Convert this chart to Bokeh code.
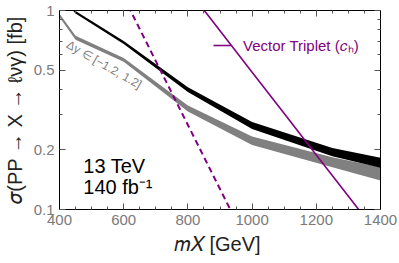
from bokeh.plotting import figure
from bokeh.models import (FixedTicker, CustomJSTickFormatter, Label, Legend, LegendItem,
                          LogAxis, LinearAxis, Range1d)
from bokeh.embed import file_html
from bokeh.resources import INLINE

# ---- data ----
mass = [400, 450, 600, 800, 1000, 1250, 1400]
black_hi = [1.218, 0.994, 0.702, 0.412, 0.275, 0.2035, 0.182]
black_lo = [1.183, 0.966, 0.678, 0.389, 0.254, 0.185, 0.162]
gray_hi = [0.963, 0.747, 0.578, 0.333, 0.233, 0.183, 0.163]
gray_lo = [0.925, 0.713, 0.552, 0.311, 0.211, 0.163, 0.140]

vt_mass = [800, 900, 1000, 1100, 1200, 1300, 1400]
vt_sigma = [1.276, 0.791, 0.490, 0.304, 0.188, 0.1165, 0.0722]

dash_mass = [600, 700, 800, 900, 1000]
dash_sigma = [1.168, 0.557, 0.266, 0.1267, 0.0604]

x_major = [400, 600, 800, 1000, 1200, 1400]
x_minor = [450, 500, 550, 650, 700, 750, 850, 900, 950, 1050, 1100, 1150, 1250, 1300, 1350]
y_major = [0.1, 0.2, 0.5, 1]
y_minor = [0.3, 0.4, 0.6, 0.7, 0.8, 0.9]

x_title = "𝑚𝑋  [GeV]"
y_title = "𝜎(PP → X → ℓνγ) [fb]"
legend_label = "Vector Triplet (𝑐ₕ)"

PURPLE = "#800080"
GRAY = "#808080"
FONT = "Liberation Sans"
TICKC = "#555555"

p = figure(width=399, height=263, y_axis_type="log",
           x_range=Range1d(400, 1400), y_range=Range1d(0.1, 1),
           output_backend="svg", toolbar_location=None,
           min_border_left=56, min_border_right=19, min_border_top=10, min_border_bottom=54)
p.background_fill_color = "white"
p.grid.visible = False
p.outline_line_color = "black"
p.outline_line_width = 1

for ax, tk in ((p.xaxis[0], FixedTicker(ticks=x_major, minor_ticks=x_minor)),
               (p.yaxis[0], FixedTicker(ticks=y_major, minor_ticks=y_minor))):
    ax.ticker = tk
    ax.major_tick_in = 6
    ax.major_tick_out = 0
    ax.minor_tick_in = 3
    ax.minor_tick_out = 0
    ax.axis_line_color = "black"
    ax.major_tick_line_color = TICKC
    ax.minor_tick_line_color = TICKC
    ax.major_label_text_font = FONT
    ax.major_label_text_font_size = "15px"
    ax.major_label_text_color = "#7a7a7a"
    ax.major_label_standoff = 5
    ax.axis_label_text_font = FONT
    ax.axis_label_text_font_size = "20px"
    ax.axis_label_text_font_style = "normal"
    ax.axis_label_text_color = "#222222"
    ax.axis_label_standoff = 5
p.yaxis[0].formatter = CustomJSTickFormatter(code="return String(tick);")
p.xaxis[0].axis_label = x_title
p.yaxis[0].axis_label = y_title

blank = CustomJSTickFormatter(code="return '';")
ra = LogAxis(ticker=FixedTicker(ticks=y_major, minor_ticks=y_minor), formatter=blank,
             major_tick_in=6, major_tick_out=0, minor_tick_in=3, minor_tick_out=0,
             major_label_standoff=0,
             major_tick_line_color=TICKC, minor_tick_line_color=TICKC)
p.add_layout(ra, "right")
ta = LinearAxis(ticker=FixedTicker(ticks=x_major, minor_ticks=x_minor), formatter=blank,
                major_tick_in=6, major_tick_out=0, minor_tick_in=3, minor_tick_out=0,
                major_label_standoff=0,
                major_tick_line_color=TICKC, minor_tick_line_color=TICKC)
p.add_layout(ta, "above")

# bands
p.varea(x=mass, y1=gray_lo, y2=gray_hi, fill_color=GRAY)
p.varea(x=mass, y1=black_lo, y2=black_hi, fill_color="black")

# purple curves
p.line(dash_mass, dash_sigma, line_color=PURPLE, line_width=2, line_dash="6 4")
vt = p.line(vt_mass, vt_sigma, line_color=PURPLE, line_width=1.6)

legend = Legend(items=[LegendItem(label=legend_label, renderers=[vt])],
                location=(154, 154), background_fill_alpha=0, border_line_alpha=0,
                padding=0, margin=0, glyph_width=18, label_standoff=12,
                label_text_font=FONT, label_text_font_size="15px",
                label_text_color=PURPLE)
p.add_layout(legend)

# annotations inside the frame
p.add_layout(Label(x=539, y=0.535, text="Δy ∈ [−1.2, 1.2]", angle=-0.52,
                   text_align="center", text_baseline="middle",
                   text_font=FONT, text_font_size="12px", text_color=GRAY))
p.add_layout(Label(x=474, y=0.166, text="13 TeV", text_font=FONT,
                   text_font_size="20px", text_color="black", text_baseline="alphabetic"))
p.add_layout(Label(x=474, y=0.129, text="140 fb⁻¹", text_font=FONT,
                   text_font_size="20px", text_color="black", text_baseline="alphabetic"))

open("out.html", "w").write(file_html(p, INLINE))
